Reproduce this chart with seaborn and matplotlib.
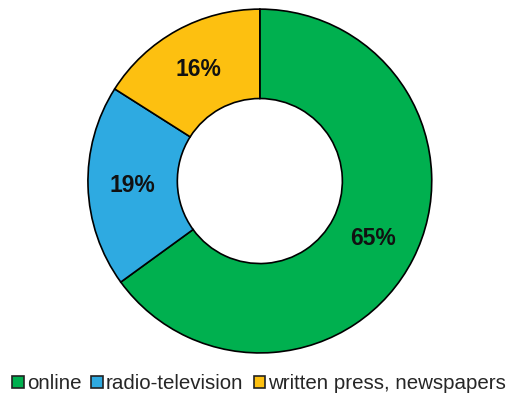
import matplotlib
matplotlib.use("Agg")
import matplotlib.pyplot as plt
from matplotlib.patches import Patch
import seaborn as sns

sns.set_theme(style="white")
plt.rcParams["font.family"] = ["Liberation Sans", "DejaVu Sans"]

categories = ["online", "radio-television", "written press, newspapers"]
shares = [65, 19, 16]
colors = ["#00B04F", "#2EAAE1", "#FDC010"]

fig = plt.figure(figsize=(5.11, 3.97), dpi=100)
ax = fig.add_axes([0.172, 0.111, 0.673, 0.866])

wedges, texts, autotexts = ax.pie(
    shares,
    colors=colors,
    startangle=90,
    counterclock=False,
    autopct="%d%%",
    pctdistance=0.74,
    wedgeprops=dict(width=0.52, edgecolor="black", linewidth=1.2),
    textprops=dict(fontsize=16.5, fontweight="bold", color="#111111"),
)
ax.set_xlim(-1.0, 1.0)
ax.set_ylim(-1.0, 1.0)
ax.set_aspect("equal")
ax.axis("off")

handles = [Patch(facecolor=c, edgecolor="#222222", linewidth=1.2) for c in colors]
fig.legend(
    handles, categories,
    loc="center", bbox_to_anchor=(0.507, 0.033), ncol=3, frameon=False,
    fontsize=14.8, handlelength=0.55, handleheight=0.55, handletextpad=0.15,
    columnspacing=0.5, borderaxespad=0,
)

fig.savefig("out.png", dpi=100, facecolor="white")
